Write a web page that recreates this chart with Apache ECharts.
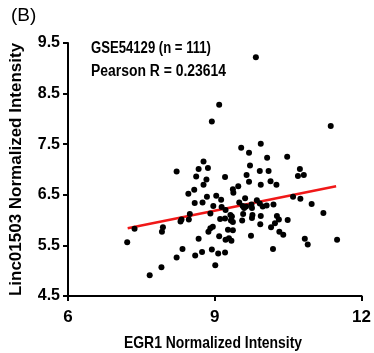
<!DOCTYPE html>
<html>
<head>
<meta charset="utf-8">
<script src="https://cdn.jsdelivr.net/npm/echarts@6/dist/echarts.min.js"></script>
<style>
html,body{margin:0;padding:0;background:#fff;}
#main{width:374px;height:353px;}
</style>
</head>
<body>
<div id="main"></div>
<script>
// EGR1 normalized intensity (x)
var egr1 = [7.21,7.36,7.67,7.91,7.92,7.94,8.22,8.22,8.30,8.32,8.34,8.46,8.49,8.47,8.58,8.59,8.60,8.62,8.67,8.67,
  8.74,8.75,8.77,8.77,8.83,8.84,8.86,8.87,8.91,8.91,8.94,8.94,8.96,8.97,9.01,9.03,9.07,9.09,9.09,9.14,
  9.13,9.11,9.21,9.22,9.21,9.21,9.22,9.27,9.29,9.32,9.35,9.33,9.37,9.34,9.37,9.37,9.38,9.48,9.50,9.54,
  9.56,9.58,9.57,9.60,9.64,9.62,9.65,9.70,9.70,9.72,9.74,9.75,9.76,9.77,9.76,9.86,9.92,9.98,10.06,9.92,
  9.93,9.94,9.94,9.94,10.07,10.10,10.14,10.15,10.19,10.20,10.23,10.26,10.27,10.31,10.32,10.40,10.48,10.49,10.60,10.74,
  10.70,10.82,10.75,10.84,10.90,10.98,11.22,11.37,11.50,9.84];
// Linc01503 normalized intensity (y)
var linc = [5.56,5.83,4.91,5.07,5.77,5.86,6.96,5.26,5.97,6.01,5.43,6.52,6.12,6.01,6.60,6.34,5.30,6.86,5.63,7.01,
  5.37,6.35,7.16,6.70,6.80,6.46,7.03,5.77,5.84,6.13,7.95,5.42,5.87,6.28,5.11,6.48,5.34,8.28,5.68,6.26,
  6.40,6.02,6.85,6.20,6.03,5.36,5.61,5.81,5.64,6.10,6.07,5.99,5.96,5.59,5.80,6.61,6.54,6.67,6.35,7.43,
  5.99,6.12,6.28,6.24,6.27,6.43,6.89,7.33,6.76,7.08,5.69,6.31,6.24,6.10,6.04,6.39,6.33,6.27,6.29,6.97,
  5.92,6.70,7.51,6.08,7.23,6.97,6.77,5.86,5.43,6.31,5.94,6.70,6.08,6.01,5.77,5.71,7.25,6.00,6.46,7.01,
  6.87,6.89,6.42,5.63,5.52,6.32,6.14,7.86,5.61,9.22];
// regression line endpoints
var fitX = [7.22, 11.48];
var fitY = [5.84, 6.67];
var xTicks = [6, 9, 12];
var yTicks = [4.5, 5.5, 6.5, 7.5, 8.5, 9.5];

var points = egr1.map(function (v, i) { return [v, linc[i]]; });
var fitLine = fitX.map(function (v, i) { return [v, fitY[i]]; });

var FONT = "'Liberation Sans', Arial, Helvetica, sans-serif";
var chart = echarts.init(document.getElementById('main'), null, {renderer: 'canvas'});
chart.setOption({
  animation: false,
  backgroundColor: '#ffffff',
  grid: {left: 63, right: 11, top: 43, bottom: 57, containLabel: false},
  xAxis: {
    type: 'value', min: 6, max: 12,
    axisLabel: {customValues: xTicks, color: '#000', fontWeight: 'bold', fontSize: 17, fontFamily: FONT, margin: 13},
    axisTick: {customValues: xTicks, length: 5, lineStyle: {color: '#000', width: 2}},
    axisLine: {onZero: false, lineStyle: {color: '#000', width: 2}},
    splitLine: {show: false}
  },
  yAxis: {
    type: 'value', min: 4.5, max: 9.5,
    axisLabel: {customValues: yTicks, color: '#000', fontWeight: 'bold', fontSize: 16, fontFamily: FONT, margin: 8,
      formatter: function (v) { return v.toFixed(1); }},
    axisTick: {customValues: yTicks, length: 5, lineStyle: {color: '#000', width: 2}},
    axisLine: {onZero: false, lineStyle: {color: '#000', width: 2}},
    splitLine: {show: false},
    name: 'Linc01503 Normalized Intensity', nameLocation: 'middle', nameGap: 43,
    nameTextStyle: {color: '#000', fontWeight: 'bold', fontSize: 17, fontFamily: FONT}
  },
  graphic: [
    {type: 'text', left: 11, top: 6, style: {text: '(B)', fill: '#000', font: '19px ' + FONT}},
    {type: 'text', x: 213, y: 343, scaleX: 0.82, style: {text: 'EGR1 Normalized Intensity', fill: '#000',
      textAlign: 'center', textVerticalAlign: 'middle', font: 'bold 17px ' + FONT}},
    {type: 'text', x: 91, y: 49, scaleX: 0.82, style: {text: 'GSE54129 (n = 111)', fill: '#000', textVerticalAlign: 'middle',
      font: 'bold 16px ' + FONT}},
    {type: 'text', x: 91, y: 72, scaleX: 0.87, style: {text: 'Pearson R = 0.23614', fill: '#000', textVerticalAlign: 'middle',
      font: 'bold 16px ' + FONT}}
  ],
  series: [
    {type: 'line', data: fitLine, symbol: 'none', lineStyle: {color: '#f01818', width: 2.5}, z: 1},
    {type: 'scatter', data: points, symbolSize: 6, itemStyle: {color: '#000', opacity: 1}, z: 2}
  ]
});
</script>
</body>
</html>
